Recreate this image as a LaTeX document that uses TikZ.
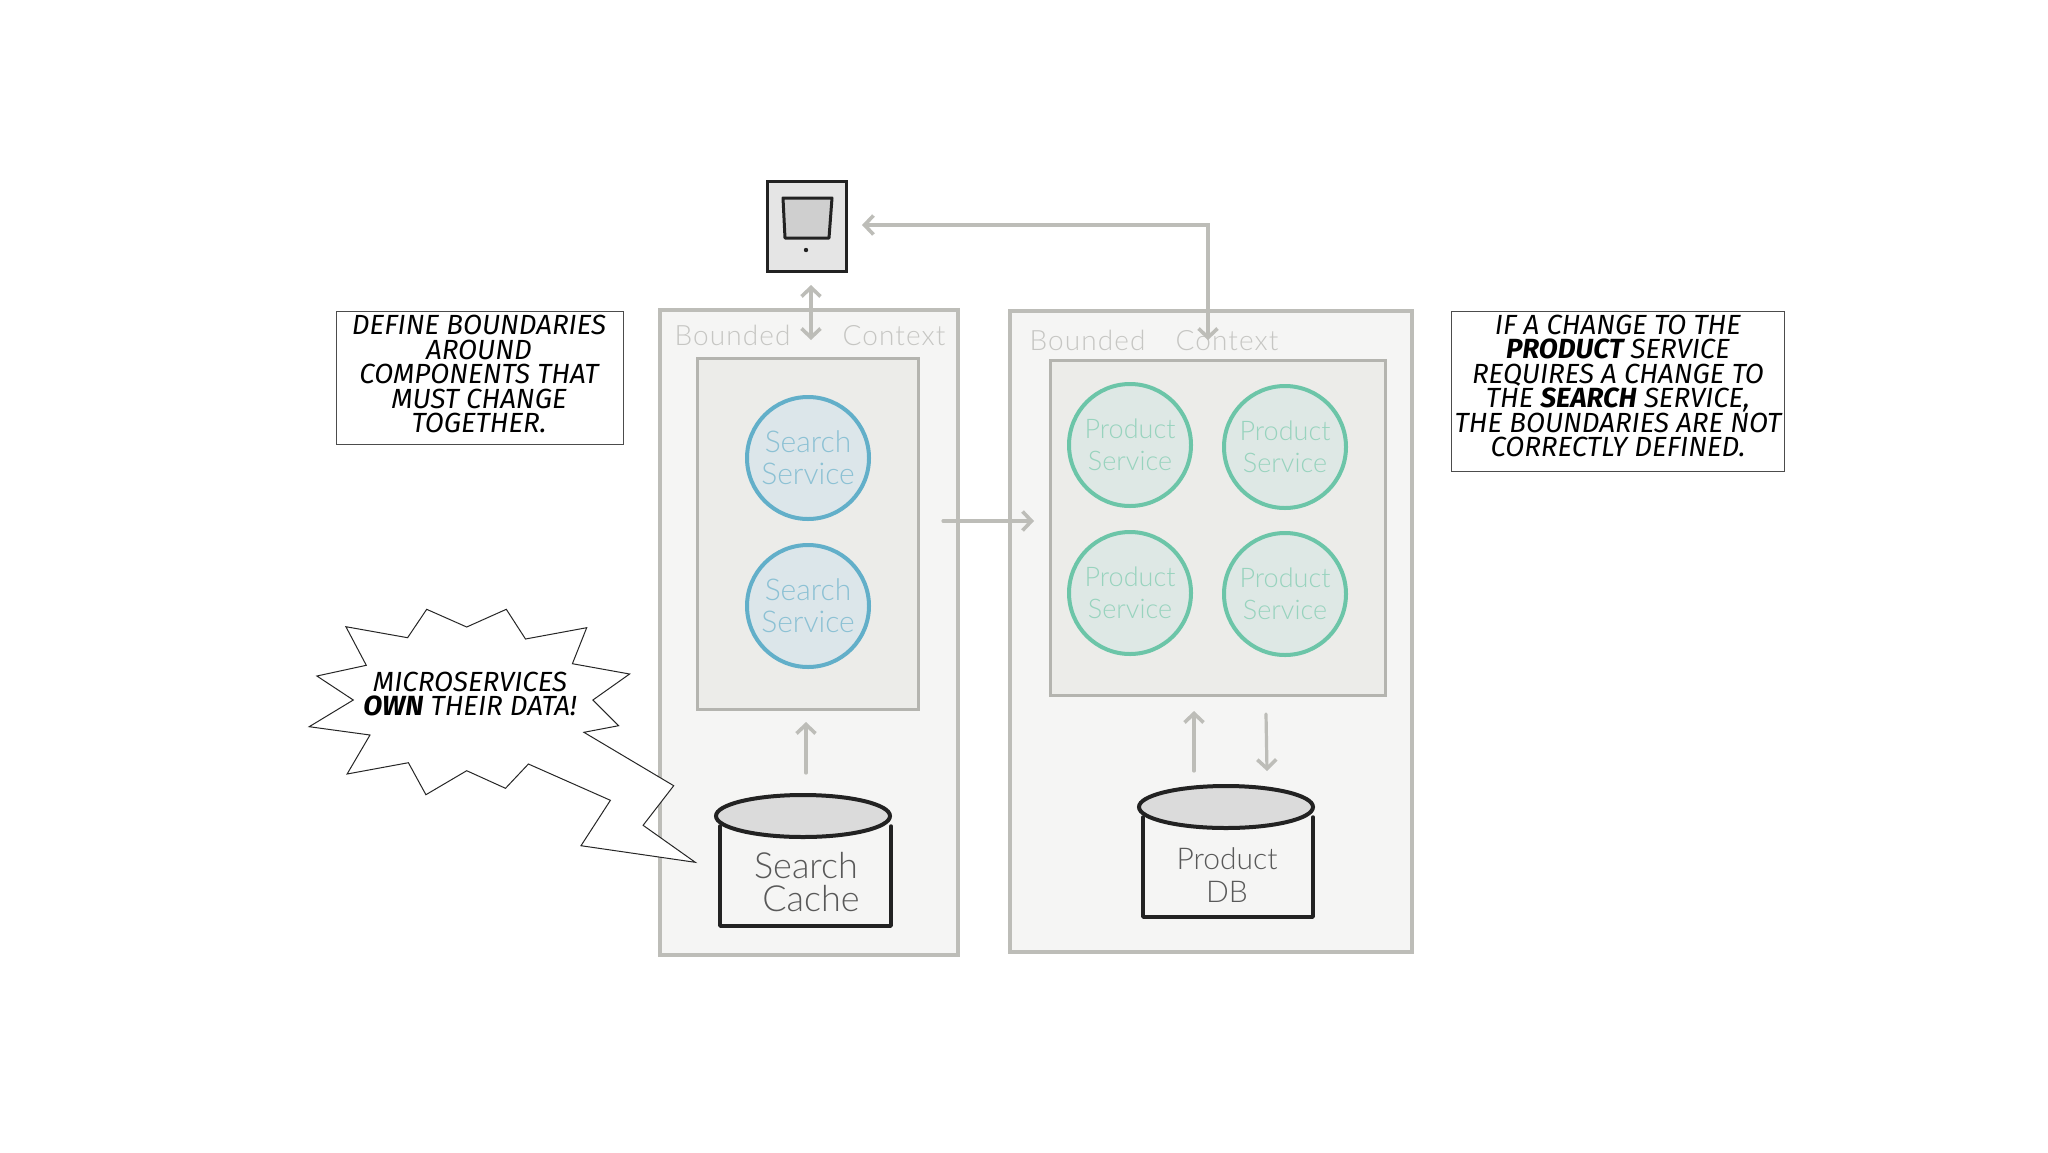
\documentclass[tikz,border=0pt]{standalone}
\usepackage{fontspec}
\usetikzlibrary{arrows.meta}
\setmainfont{Fira Sans}
\newfontfamily\hand[UprightFont={* Light}]{Lato}
\definecolor{ctxline}{HTML}{BDBDB8}
\definecolor{ctxfill}{HTML}{F5F5F4}
\definecolor{innerline}{HTML}{B4B4AF}
\definecolor{innerfill}{HTML}{ECECE9}
\definecolor{ctxtext}{HTML}{C6C6C3}
\definecolor{blueline}{HTML}{62AFC9}
\definecolor{bluefill}{HTML}{DCE6EA}
\definecolor{bluetext}{HTML}{8CC1D4}
\definecolor{greenline}{HTML}{6CC5A8}
\definecolor{greenfill}{HTML}{DEE8E5}
\definecolor{greentext}{HTML}{98D3BE}
\definecolor{ink}{HTML}{222222}
\usetikzlibrary{shapes.geometric}
\tikzset{
  ctxbox/.style={draw=ctxline,fill=ctxfill,line width=3.5pt,inner sep=0pt},
  innerbox/.style={draw=innerline,fill=innerfill,line width=3pt,inner sep=0pt},
  svcblue/.style={circle,draw=blueline,fill=bluefill,line width=4pt,minimum size=122pt,inner sep=0pt,align=center,text=bluetext,font=\hand\fontsize{30}{32}\selectfont},
  svcgreen/.style={circle,draw=greenline,fill=greenfill,line width=4pt,minimum size=122pt,inner sep=0pt,align=center,text=greentext,font=\hand\fontsize{27}{32}\selectfont},
  ctxlabel/.style={text=ctxtext,font=\hand\addfontfeature{LetterSpace=4}\fontsize{28}{30}\selectfont,inner sep=0pt},
  dblabel/.style={text=ink!75,font=\hand\fontsize{30}{33}\selectfont,align=center,inner sep=0pt},
  cachelabel/.style={dblabel,font=\hand\fontsize{36}{33}\selectfont},
  dbtop/.style={ellipse,draw=ink,fill=black!14,line width=4pt,minimum width=174pt,minimum height=42pt,inner sep=0pt},
  dbline/.style={draw=ink,line width=3.5pt,line cap=round,line join=round},
  flow/.style={draw=ctxline,line width=3.2pt,line cap=round,-{Straight Barb[length=9pt,width=19pt,line width=3.6pt]}},
  flowtwo/.style={draw=ctxline,line width=3.2pt,line cap=round,{Straight Barb[length=9pt,width=19pt,line width=3.6pt]}-{Straight Barb[length=9pt,width=19pt,line width=3.6pt]}},
  note/.style={draw=black!70,fill=white,line width=1pt,inner sep=0pt},
  comic/.style={align=center,inner sep=0pt,font=\itshape\fontsize{27.7}{24.5}\selectfont},
}
\newcommand{\heavy}[1]{{\bfseries #1}}
\begin{document}
\begin{tikzpicture}[x=1pt,y=-1pt]
\useasboundingbox (0,0) rectangle (2048,1152);
% bounded contexts
\node[ctxbox,minimum width=298pt,minimum height=645pt] (ctxl) at (809,632.5) {};
\node[ctxbox,minimum width=402pt,minimum height=641pt] (ctxr) at (1211,631.5) {};
\node[ctxlabel] (ctxltext) at (810,335) {Bounded\hspace{52pt}Context};
\node[ctxlabel] (ctxrtext) at (1154,340) {Bounded\hspace{30pt}Context};
\node[innerbox,minimum width=221pt,minimum height=351pt] (innerl) at (807.5,533.5) {};
\node[innerbox,minimum width=335pt,minimum height=335pt] (innerr) at (1217.5,527.5) {};
% services
\node[svcblue] (s1) at (808,458) {Search\\Service};
\node[svcblue] (s2) at (808,606) {Search\\Service};
\node[svcgreen] (p1) at (1130,445) {Product\\Service};
\node[svcgreen] (p2) at (1285,447) {Product\\Service};
\node[svcgreen] (p3) at (1130,593) {Product\\Service};
\node[svcgreen] (p4) at (1285,594) {Product\\Service};
% device
\node[draw=ink,fill=black!10,line width=3pt,minimum width=79pt,minimum height=90pt,inner sep=0pt] (tablet) at (807,226.5) {};
\draw[draw=ink,fill=black!19,line width=3pt,line join=round] (783,198) -- (832,198) -- (829,238) -- (785,238) -- cycle;
\fill[ink] (806,250) circle (2.2pt);
% caches
\node[cachelabel] (cachetext) at (806,882) {Search\\\hspace{10pt}Cache};
\node[dblabel] (dbtext) at (1227,875) {Product\\DB};
\coordinate (cbl) at (720,926); \coordinate (cbr) at (891,926);
\coordinate (cal) at (720,826); \coordinate (car) at (891,826);
\draw[dbline] (cal) -- (cbl) -- (cbr) -- (car);
\node[dbtop] (cache) at (803,816) {};
\coordinate (dbl) at (1143,917); \coordinate (dbr) at (1313,917);
\coordinate (dal) at (1143,817); \coordinate (dar) at (1313,817);
\draw[dbline] (dal) -- (dbl) -- (dbr) -- (dar);
\node[dbtop] (db) at (1226,807) {};
% connectors
\coordinate (a1a) at (811,285); \coordinate (a1b) at (811,340);
\draw[flowtwo] (a1a) -- (a1b);
\coordinate (a2a) at (1208,340); \coordinate (a2c) at (1208,225); \coordinate (a2b) at (862,225);
\draw[flowtwo] (a2a) -- (a2c) -- (a2b);
\coordinate (a3a) at (943,521); \coordinate (a3b) at (1034,521);
\draw[flow] (a3a) -- (a3b);
\coordinate (a4a) at (806,773); \coordinate (a4b) at (806,722);
\draw[flow] (a4a) -- (a4b);
\coordinate (a5a) at (1194,771); \coordinate (a5b) at (1194,711);
\draw[flow] (a5a) -- (a5b);
\coordinate (a6a) at (1266,714); \coordinate (a6b) at (1267,771);
\draw[flow] (a6a) -- (a6b);
% burst
\draw[draw=black!85,fill=white,line width=1pt,line join=miter]
 (345.9,626.7) -- (407.6,637.7) -- (426.7,609.3) -- (466.7,627) -- (506.3,609.3) -- (525.5,639) -- (586.7,627.7) -- (572.4,663.7) -- (629.6,674) -- (592.9,700) -- (618.6,725.7) -- (583.9,732.3) -- (673.7,785.7) -- (643.1,825.3) -- (695.3,862.3) -- (581,845.7) -- (610.4,800.3) -- (528.4,764) -- (505.5,788.3) -- (466.7,770.7) -- (425.9,794.7) -- (408.4,762.7) -- (347.1,774) -- (370,735) -- (309.2,726.7) -- (353.3,700) -- (316.9,676) -- (366.3,665.3) -- cycle;
\node[comic] (bursttext) at (470,694) {MICROSERVICES\\\heavy{OWN} THEIR DATA!};
% notes
\node[note,minimum width=287pt,minimum height=133pt] (notel) at (479.5,377.5) {};
\node[comic] (noteltext) at (479,374) {DEFINE BOUNDARIES\\AROUND\\COMPONENTS THAT\\MUST CHANGE\\TOGETHER.};
\node[note,minimum width=333pt,minimum height=160pt] (noter) at (1617.5,391) {};
\node[comic] (notertext) at (1618,386) {IF A CHANGE TO THE\\\heavy{PRODUCT} SERVICE\\REQUIRES A CHANGE TO\\THE \heavy{SEARCH} SERVICE,\\THE BOUNDARIES ARE NOT\\CORRECTLY DEFINED.};
\end{tikzpicture}
\end{document}
